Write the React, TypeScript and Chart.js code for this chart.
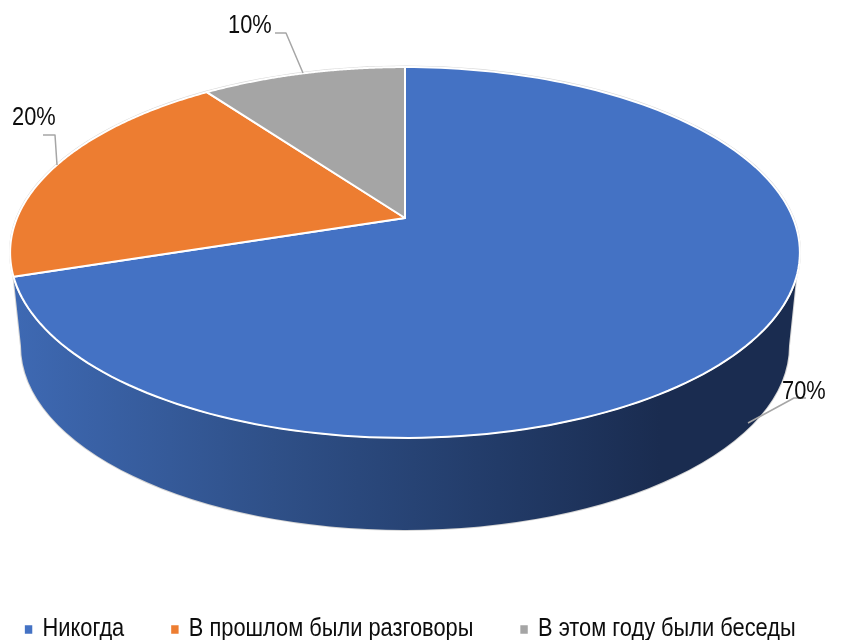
import React, { useEffect, useRef } from "react";
import { Chart, registerables } from "chart.js";

Chart.register(...registerables);

const categories = ["Никогда", "В прошлом были разговоры", "В этом году были беседы"];
const shares = [70, 20, 10];
const sliceColors = ["#4472C4", "#ED7D31", "#A5A5A5"];

const FONT = '"Liberation Sans", Arial, sans-serif';
const TEXT_SQUEEZE = 0.873;

// Perspective of the tilted disc
const APEX = { x: 405, y: 218 };
const PERSPECTIVE = 0.186;
const HALF_W = 388;
const HALF_H = 179;

// Rim and lower edge of the extruded side
const TOP_ELLIPSE = { x: 405, y: 252, rx: 395, ry: 185.5 };
const BOTTOM_ELLIPSE = { x: 405, y: 346, rx: 384, ry: 184 };

// Text anchor and leader line for each slice label
const labelAnchors = [
  { x: 782, y: 392, line: [[748, 423], [794, 398], [806, 398]] },
  { x: 12, y: 118, line: [[43, 135], [55, 135], [57, 165]] },
  { x: 228, y: 26, line: [[275, 33], [286, 33], [303, 73]] },
];

const LEGEND_FIRST_X = 25.5 / TEXT_SQUEEZE;
const LEGEND_CENTER_Y = 632;

function project(angle: number) {
  const u = Math.cos(angle);
  const v = -Math.sin(angle);
  const d = 1 + PERSPECTIVE * v;
  return { x: APEX.x + (HALF_W * u) / d, y: APEX.y - (HALF_H * v) / d };
}

const tiltedPie = {
  id: "tiltedPie",
  beforeLayout(chart: any) {
    const legend = chart.legend;
    if (!legend || legend.__squeezed) return;
    legend.__squeezed = true;
    const fit = legend.fit;
    legend.fit = function () {
      this.maxWidth = 3000;
      fit.call(this);
    };
    const draw = legend.draw;
    legend.draw = function () {
      const ctx = this.ctx;
      ctx.save();
      ctx.scale(TEXT_SQUEEZE, 1);
      draw.call(this);
      ctx.restore();
    };
  },
  afterLayout(chart: any) {
    const legend = chart.legend;
    if (!legend) return;
    const padding = legend.options.labels.padding;
    const lw = legend.lineWidths[0];
    legend.left = LEGEND_FIRST_X - padding - 1;
    legend.right = LEGEND_FIRST_X + lw + 1;
    const h = legend.height;
    legend.top = LEGEND_CENTER_Y - padding - legend._computeTitleHeight() - 15;
    legend.bottom = legend.top + h;
  },
  beforeDatasetDraw(chart: any) {
    const ctx = chart.ctx as CanvasRenderingContext2D;
    const arcs = chart.getDatasetMeta(0).data;
    const values = chart.data.datasets[0].data as number[];
    const total = values.reduce((a, b) => a + b, 0);

    // Side wall: starts where the first slice ends on the left
    const leftStart = project(arcs[0].endAngle);
    const rightStart = project(arcs[0].startAngle + Math.PI * 0.602);
    const grad = ctx.createLinearGradient(14, 0, 660, 0);
    grad.addColorStop(0, "#3E69B3");
    grad.addColorStop(0.4, "#2F5088");
    grad.addColorStop(0.75, "#223B68");
    grad.addColorStop(1, "#1A2C50");

    ctx.save();
    ctx.beginPath();
    ctx.moveTo(leftStart.x, leftStart.y);
    ctx.ellipse(BOTTOM_ELLIPSE.x, BOTTOM_ELLIPSE.y, BOTTOM_ELLIPSE.rx, BOTTOM_ELLIPSE.ry, 0, Math.PI, 0, true);
    ctx.lineTo(rightStart.x, rightStart.y);
    ctx.closePath();
    ctx.strokeStyle = "#D4D4D4";
    ctx.lineWidth = 2;
    ctx.stroke();
    ctx.fillStyle = grad;
    ctx.fill();

    // Soft outline round the rim
    ctx.beginPath();
    ctx.ellipse(TOP_ELLIPSE.x, TOP_ELLIPSE.y, TOP_ELLIPSE.rx, TOP_ELLIPSE.ry, 0, 0, Math.PI * 2);
    ctx.strokeStyle = "#D8D8D8";
    ctx.lineWidth = 2;
    ctx.stroke();

    // Slices
    arcs.forEach((arc: any) => {
      ctx.beginPath();
      ctx.moveTo(APEX.x, APEX.y);
      const steps = 160;
      for (let s = 0; s <= steps; s++) {
        const p = project(arc.startAngle + ((arc.endAngle - arc.startAngle) * s) / steps);
        ctx.lineTo(p.x, p.y);
      }
      ctx.closePath();
      ctx.fillStyle = arc.options.backgroundColor;
      ctx.fill();
      ctx.strokeStyle = "#FFFFFF";
      ctx.lineWidth = 2;
      ctx.lineJoin = "round";
      ctx.stroke();
    });

    // Labels with leader lines
    ctx.font = `25px ${FONT}`;
    ctx.textBaseline = "middle";
    ctx.textAlign = "left";
    arcs.forEach((_: any, i: number) => {
      const a = labelAnchors[i];
      ctx.beginPath();
      a.line.forEach(([x, y], j) => (j === 0 ? ctx.moveTo(x, y) : ctx.lineTo(x, y)));
      ctx.strokeStyle = "#A6A6A6";
      ctx.lineWidth = 1.5;
      ctx.stroke();
      ctx.save();
      ctx.translate(a.x, a.y);
      ctx.scale(TEXT_SQUEEZE, 1);
      ctx.fillStyle = "#0D0D0D";
      ctx.fillText(`${Math.round((values[i] / total) * 100)}%`, 0, 0);
      ctx.restore();
    });
    ctx.restore();
    return false;
  },
};

export default function App() {
  const ref = useRef<HTMLCanvasElement | null>(null);
  useEffect(() => {
    document.body.style.margin = "0";
    document.body.style.background = "#FFFFFF";
    const chart = new Chart(ref.current!, {
      type: "pie",
      plugins: [tiltedPie],
      data: {
        labels: categories,
        datasets: [{ data: shares, backgroundColor: sliceColors, borderWidth: 0 }],
      },
      options: {
        responsive: false,
        animation: false,
        plugins: {
          tooltip: { enabled: false },
          legend: {
            position: "bottom",
            labels: {
              usePointStyle: true,
              pointStyle: "rect",
              boxWidth: 7,
              boxHeight: 8.5,
              padding: 54.5,
              color: "#0D0D0D",
              font: { family: FONT, size: 25 },
            },
          },
        },
      },
    } as any);
    return () => chart.destroy();
  }, []);
  return (
    <div style={{ width: 856, height: 640 }}>
      <canvas ref={ref} width={856} height={640} style={{ display: "block" }} />
    </div>
  );
}
